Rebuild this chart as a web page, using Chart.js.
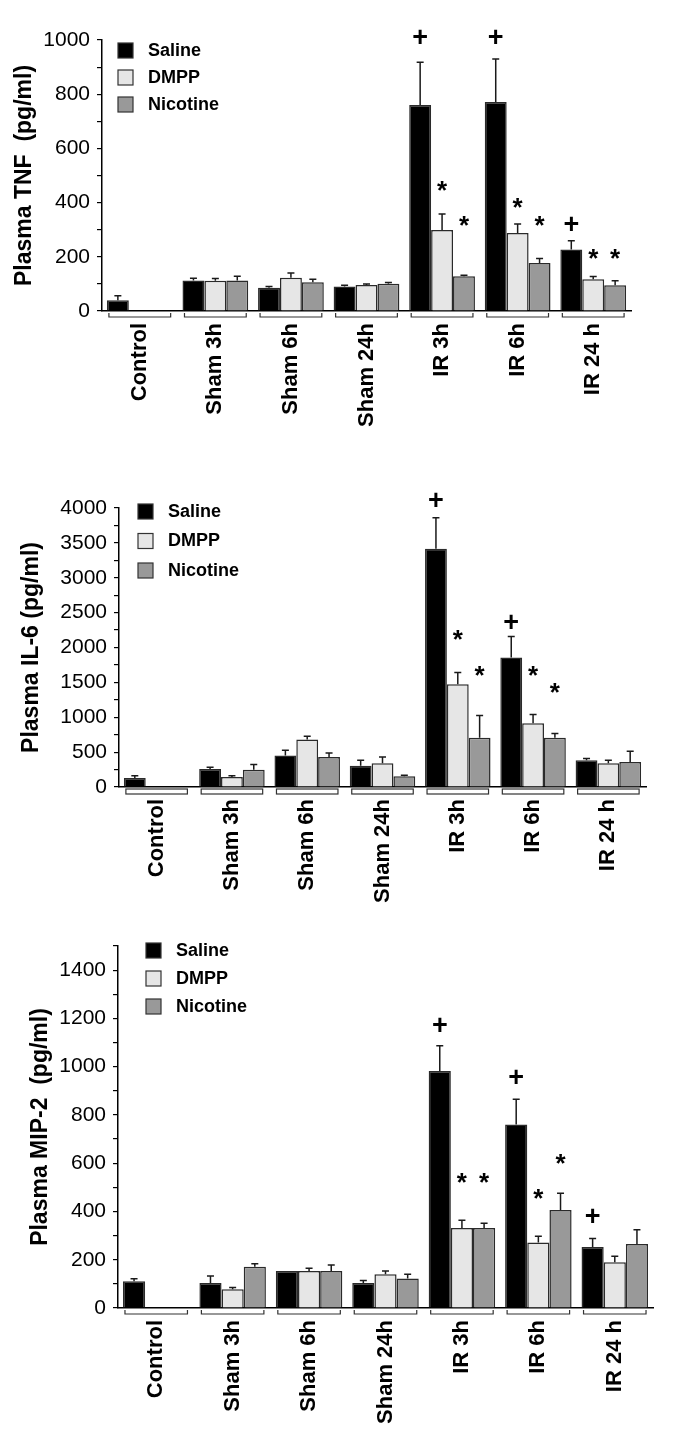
<!DOCTYPE html>
<html>
<head>
<meta charset="utf-8">
<title>Plasma cytokines</title>
<script src="https://cdn.jsdelivr.net/npm/chart.js@4.4.1/dist/chart.umd.min.js"></script>
<style>
  body { margin: 0; background: #fff; width: 685px; height: 1445px; position: relative; overflow: hidden; }
  canvas { position: absolute; left: 0; }
</style>
</head>
<body>
<canvas id="tnfChart" width="685" height="470" style="top:0px"></canvas>
<canvas id="il6Chart" width="685" height="455" style="top:470px"></canvas>
<canvas id="mipChart" width="685" height="520" style="top:925px"></canvas>
<script>
// --- 1. DATA ---
const groups = ['Control', 'Sham 3h', 'Sham 6h', 'Sham 24h', 'IR 3h', 'IR 6h', 'IR 24 h'];
const seriesNames = ['Saline', 'DMPP', 'Nicotine'];
const seriesColors = ['#000000', '#e6e6e6', '#999999'];

// TNF (pg/ml)
const tnfSaline = [40, 113, 86, 90, 760, 771, 227];
const tnfSalineErr = [16, 8, 4, 5, 158, 159, 32];
const tnfDmpp = [null, 112, 123, 96, 299, 288, 117];
const tnfDmppErr = [0, 8, 17, 4, 59, 33, 10];
const tnfNicotine = [null, 113, 106, 101, 128, 177, 95];
const tnfNicotineErr = [0, 15, 11, 4, 4, 17, 17];
const tnfTicks = [0, 100, 200, 300, 400, 500, 600, 700, 800, 900, 1000];
const tnfTickLabels = [0, 200, 400, 600, 800, 1000];
// [group, series index, symbol, height in pg/ml]
const tnfMarks = [
  ['IR 3h', 0, '+', 1013], ['IR 6h', 0, '+', 1013], ['IR 24 h', 0, '+', 322],
  ['IR 3h', 1, '*', 470], ['IR 3h', 2, '*', 341],
  ['IR 6h', 1, '*', 407], ['IR 6h', 2, '*', 341],
  ['IR 24 h', 1, '*', 216], ['IR 24 h', 2, '*', 216]
];

// IL-6 (pg/ml)
const il6Saline = [130, 259, 450, 306, 3414, 1856, 383];
const il6SalineErr = [33, 23, 77, 77, 446, 302, 24];
const il6Dmpp = [null, 144, 680, 340, 1472, 915, 340];
const il6DmppErr = [0, 17, 48, 91, 168, 125, 43];
const il6Nicotine = [null, 249, 431, 153, 705, 705, 360];
const il6NicotineErr = [0, 72, 58, 15, 321, 62, 152];
const il6Ticks = [0, 250, 500, 750, 1000, 1250, 1500, 1750, 2000, 2250, 2500, 2750, 3000, 3250, 3500, 3750, 4000];
const il6TickLabels = [0, 500, 1000, 1500, 2000, 2500, 3000, 3500, 4000];
const il6Marks = [
  ['IR 3h', 0, '+', 4124], ['IR 6h', 0, '+', 2368],
  ['IR 3h', 1, '*', 2201], ['IR 3h', 2, '*', 1688],
  ['IR 6h', 1, '*', 1688], ['IR 6h', 2, '*', 1448]
];

// MIP-2 (pg/ml)
const mipSaline = [111, 104, 153, 104, 982, 760, 253];
const mipSalineErr = [10, 29, 0, 10, 105, 105, 35];
const mipDmpp = [null, 78, 153, 140, 331, 271, 190];
const mipDmppErr = [0, 7, 12, 13, 33, 26, 24];
const mipNicotine = [null, 171, 153, 122, 331, 406, 265];
const mipNicotineErr = [0, 12, 25, 18, 20, 70, 59];
const mipTicks = [0, 100, 200, 300, 400, 500, 600, 700, 800, 900, 1000, 1100, 1200, 1300, 1400, 1500];
const mipTickLabels = [0, 200, 400, 600, 800, 1000, 1200, 1400];
const mipMarks = [
  ['IR 3h', 0, '+', 1174], ['IR 6h', 0, '+', 961], ['IR 24 h', 0, '+', 384],
  ['IR 3h', 1, '*', 548], ['IR 3h', 2, '*', 548],
  ['IR 6h', 1, '*', 481], ['IR 6h', 2, '*', 625]
];

const FONT = '"Liberation Sans", Arial, Helvetica, sans-serif';
const CAT_PCT = 0.87;

// --- 2. PLUGINS (error bars, brackets, significance marks, legend) ---
const errorBars = {
  id: 'errorBars',
  afterDatasetsDraw(chart) {
    const c = chart.ctx, y = chart.scales.y;
    c.save();
    c.strokeStyle = '#1a1a1a';
    c.lineWidth = 1.5;
    chart.data.datasets.forEach((ds, i) => {
      chart.getDatasetMeta(i).data.forEach((bar, j) => {
        const v = ds.data[j], e = ds.errors[j];
        if (v == null || !e) return;
        const top = y.getPixelForValue(v + e);
        c.beginPath();
        c.moveTo(bar.x, bar.y);
        c.lineTo(bar.x, top);
        c.moveTo(bar.x - 3.5, top);
        c.lineTo(bar.x + 3.5, top);
        c.stroke();
      });
    });
    c.restore();
  }
};

const brackets = {
  id: 'brackets',
  afterDraw(chart, args, opts) {
    const c = chart.ctx, x = chart.scales.x, base = chart.chartArea.bottom;
    const half = x.width / groups.length * CAT_PCT / 2 - 2;
    c.save();
    c.strokeStyle = '#333';
    c.lineWidth = 1.2;
    groups.forEach((g, i) => {
      const cx = x.getPixelForValue(i);
      if (opts.style === 'box') {
        c.fillStyle = '#fff';
        c.fillRect(cx - half, base + 2, half * 2, 5);
        c.strokeRect(cx - half, base + 2, half * 2, 5);
      } else {
        c.beginPath();
        c.moveTo(cx - half, base + 2);
        c.lineTo(cx - half, base + 6);
        c.lineTo(cx + half, base + 6);
        c.lineTo(cx + half, base + 2);
        c.stroke();
      }
    });
    c.restore();
  }
};

const sigMarks = {
  id: 'sigMarks',
  afterDatasetsDraw(chart, args, opts) {
    const c = chart.ctx, y = chart.scales.y;
    c.save();
    c.fillStyle = '#000';
    c.textAlign = 'center';
    c.textBaseline = 'alphabetic';
    opts.list.forEach(([g, s, sym, v]) => {
      const bar = chart.getDatasetMeta(s).data[groups.indexOf(g)];
      const py = y.getPixelForValue(v);
      c.font = 'bold ' + (sym === '*' ? 26 : 27) + 'px ' + FONT;
      c.fillText(sym, bar.x, py + (sym === '*' ? 15 : 9.5));
    });
    c.restore();
  }
};

const boxLegend = {
  id: 'boxLegend',
  afterDraw(chart, args, opts) {
    const c = chart.ctx, a = chart.chartArea;
    c.save();
    c.font = 'bold 18px ' + FONT;
    c.textBaseline = 'middle';
    chart.data.datasets.forEach((ds, i) => {
      const x0 = a.left + opts.dx, y0 = a.top + opts.dy + i * opts.gap;
      c.fillStyle = ds.backgroundColor;
      c.fillRect(x0, y0, 15, 15);
      c.strokeStyle = '#333';
      c.lineWidth = 1.2;
      c.strokeRect(x0, y0, 15, 15);
      c.fillStyle = '#000';
      c.fillText(ds.label, x0 + 30, y0 + 8);
    });
    c.restore();
  }
};

// --- 3. PANEL BUILDER ---
function createPanel(id, series, errors, ticks, tickLabels, marks, p) {
  const ctx = document.getElementById(id).getContext('2d');
  return new Chart(ctx, {
    type: 'bar',
    data: {
      labels: groups,
      datasets: series.map((vals, i) => ({
        label: seriesNames[i], data: vals, errors: errors[i],
        backgroundColor: seriesColors[i], borderColor: '#2a2a2a', borderWidth: 1.5,
        barPercentage: 1, categoryPercentage: CAT_PCT
      }))
    },
    options: {
      responsive: false,
      animation: false,
      layout: { padding: { top: p.top, right: p.right, left: 0, bottom: 0 } },
      plugins: {
        legend: { display: false },
        tooltip: { enabled: false },
        brackets: { style: p.bracket },
        sigMarks: { list: marks },
        boxLegend: p.legend
      },
      scales: {
        x: {
          grid: { display: false, drawTicks: false },
          border: { display: true, color: '#000', width: 1.5 },
          ticks: { color: '#000', font: { family: FONT, size: 22, weight: 'bold' },
                   minRotation: 90, maxRotation: 90, padding: 12, autoSkip: false },
          afterFit: s => { s.height = p.xHeight; }
        },
        y: {
          min: 0, max: ticks[ticks.length - 1],
          afterBuildTicks: s => { s.ticks = ticks.map(v => ({ value: v })); },
          grid: { drawOnChartArea: false, drawTicks: true, tickLength: 5, color: '#000', lineWidth: 1.2 },
          border: { display: true, color: '#000', width: 1.5 },
          ticks: { color: '#000', font: { family: FONT, size: 21 }, padding: 7, autoSkip: false,
                   callback: v => tickLabels.includes(v) ? String(v) : '' },
          title: { display: true, text: p.title, color: '#000',
                   font: { family: FONT, size: 23, weight: 'bold' }, padding: { top: p.titlePad, bottom: 0 } },
          afterFit: s => { s.width = p.left; }
        }
      }
    },
    plugins: [errorBars, brackets, sigMarks, boxLegend]
  });
}

// --- 4. DRAW THE THREE PANELS ---
createPanel('tnfChart',
  [tnfSaline, tnfDmpp, tnfNicotine], [tnfSalineErr, tnfDmppErr, tnfNicotineErr],
  tnfTicks, tnfTickLabels, tnfMarks,
  { title: 'Plasma TNF  (pg/ml)', left: 102, top: 40, right: 54, xHeight: 159, titlePad: 11,
    bracket: 'line', legend: { dx: 16, dy: 3, gap: 27 } });

createPanel('il6Chart',
  [il6Saline, il6Dmpp, il6Nicotine], [il6SalineErr, il6DmppErr, il6NicotineErr],
  il6Ticks, il6TickLabels, il6Marks,
  { title: 'Plasma IL-6 (pg/ml)', left: 119, top: 38, right: 39, xHeight: 138, titlePad: 18,
    bracket: 'box', legend: { dx: 19, dy: -4, gap: 29.5 } });

createPanel('mipChart',
  [mipSaline, mipDmpp, mipNicotine], [mipSalineErr, mipDmppErr, mipNicotineErr],
  mipTicks, mipTickLabels, mipMarks,
  { title: 'Plasma MIP-2  (pg/ml)', left: 118, top: 21, right: 32, xHeight: 137, titlePad: 27,
    bracket: 'line', legend: { dx: 28, dy: -3, gap: 28 } });
</script>
</body>
</html>
